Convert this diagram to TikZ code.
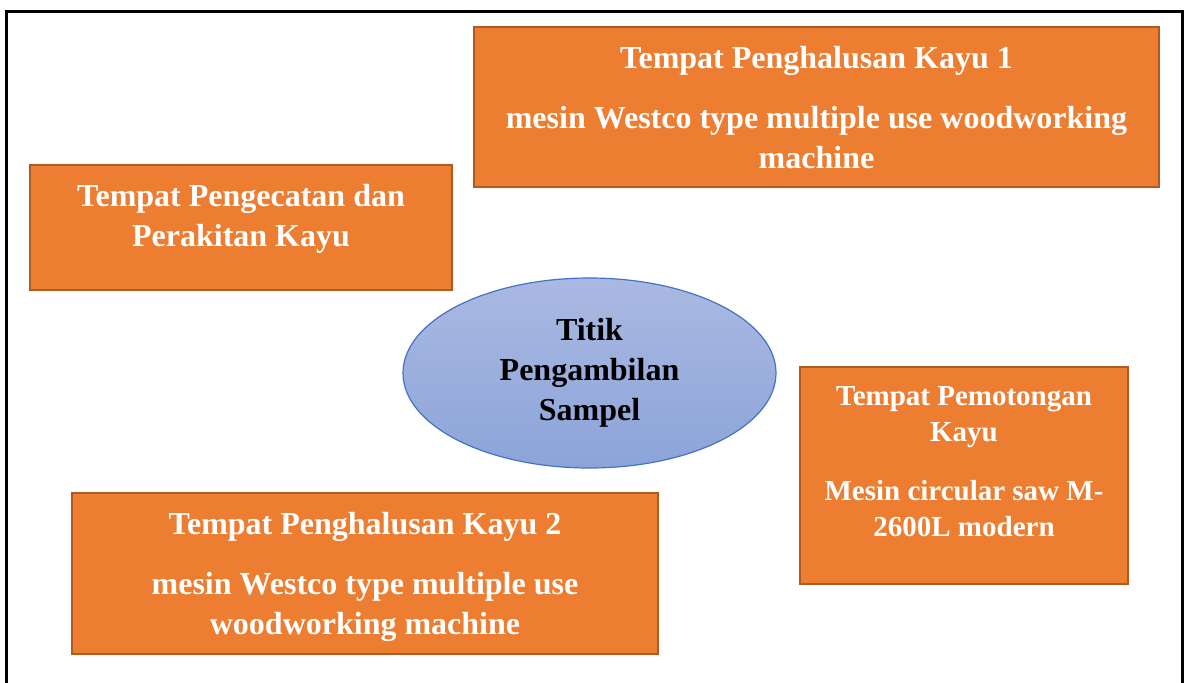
\documentclass[tikz,border=0pt]{standalone}
\usepackage{fontspec}
\setmainfont{Liberation Serif}
\usepackage{tikz}
\usetikzlibrary{shapes.geometric}

\definecolor{oranye}{HTML}{ED7D31}
\definecolor{oranyegaris}{HTML}{AE5A21}
\definecolor{biru}{HTML}{4472C4}
\definecolor{biruatas}{HTML}{AAB9E2}
\definecolor{birubawah}{HTML}{8CA4D9}

% isi kotak: lebar, tinggi, teks rata atas
\newcommand{\kotak}[4][20.5pt]{\parbox[c][#3][t]{#2}{\centering\rule{0pt}{#1}#4}}

\tikzset{
  box/.style={rectangle, fill=oranye, draw=oranyegaris, line width=1pt,
    inner sep=0pt, text=white, font=\fontsize{16}{20}\selectfont\bfseries},
  kecil/.style={font=\fontsize{14.5}{18}\selectfont\bfseries},
  sampel/.style={ellipse, draw=biru, line width=0.6pt, top color=biruatas,
    bottom color=birubawah, minimum width=186.5pt, minimum height=95pt,
    inner sep=0pt, align=center, text=black,
    font=\fontsize{16}{20}\selectfont\bfseries},
  bingkai/.style={draw=black, line width=1.5pt}
}

\begin{document}
\begin{tikzpicture}[x=0.5pt, y=-0.5pt]
  \useasboundingbox (0,0) rectangle (1185,682);

  % Bingkai luar
  \draw[bingkai] (6.5,684) -- (6.5,11) -- (1182.5,11) -- (1182.5,684);

  % Kotak-kotak tempat
  \node (halus1) [box] at (816.5,107)
    {\kotak{342.5pt}{80pt}{Tempat Penghalusan Kayu 1\\[10pt]
      mesin Westco type multiple use woodworking\\machine}};
  \node (cat) [box] at (241,227.5)
    {\kotak{211pt}{62.5pt}{Tempat Pengecatan dan\\Perakitan Kayu}};
  \node (potong) [box, kecil] at (964,475.5)
    {\kotak[19pt]{164pt}{108.5pt}{Tempat Pemotongan\\Kayu\\[11.5pt]
      Mesin circular saw M-\\2600L modern}};
  \node (halus2) [box] at (365,573.5)
    {\kotak{293pt}{80.5pt}{Tempat Penghalusan Kayu 2\\[10pt]
      mesin Westco type multiple use\\woodworking machine}};

  % Titik pengambilan sampel
  \node (titik) [sampel] at (589.5,373) {Titik\\Pengambilan\\Sampel};
\end{tikzpicture}
\end{document}
